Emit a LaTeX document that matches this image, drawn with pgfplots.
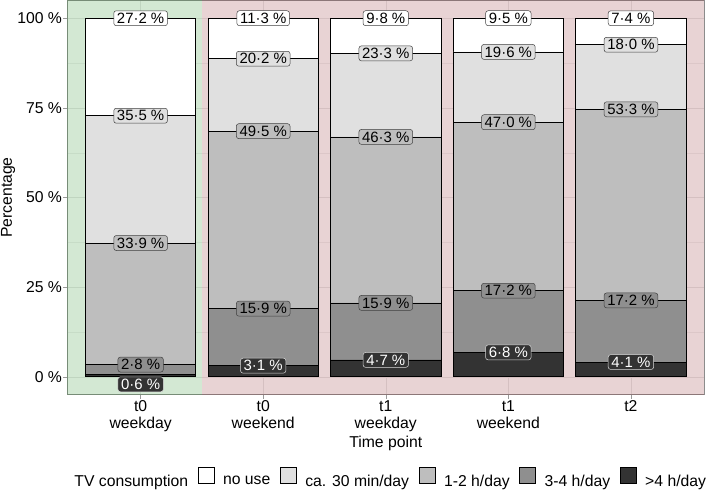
\documentclass[border=0pt]{standalone}
\usepackage{fontspec}
\setmainfont{Liberation Sans}
\usepackage{pgfplots}
\pgfplotsset{compat=1.18}
\definecolor{noUse}{HTML}{FFFFFF}
\definecolor{halfH}{HTML}{E0E0E0}
\definecolor{oneTwo}{HTML}{BEBEBE}
\definecolor{threeFour}{HTML}{8F8F8F}
\definecolor{overFour}{HTML}{333333}
\definecolor{shadeG}{RGB}{35,140,35}
\definecolor{shadeR}{RGB}{140,35,40}
\newcommand{\axfont}{\fontsize{15.8bp}{17bp}\selectfont}

\pgfplotsset{
  panel/.style={width=640bp, height=396bp, scale only axis,
    xmin=0.4, xmax=5.6, ymin=-5, ymax=105},
  lab/.style n args={3}{draw=none, mark=none,
    nodes near coords={\pgfplotspointmeta~\%},
    point meta=explicit symbolic,
    every node near coord/.append style={anchor=center, fill=#1, draw=#2,
      text=#3, rounded corners=2.5bp, line width=0.5bp,
      inner xsep=3.2bp, inner ysep=2.2bp,
      font=\fontsize{15bp}{17bp}\selectfont}},
}

\begin{document}
\begin{tikzpicture}
% background: grid, shading, ticks, axis labels
\begin{axis}[panel,
  xtick={1,2,3,4,5},
  xticklabels={{t0\\weekday},{t0\\weekend},{t1\\weekday},{t1\\weekend},{t2}},
  xticklabel style={align=center, font=\axfont, inner sep=2bp},
  ytick={0,25,50,75,100},
  yticklabels={0~\%,25~\%,50~\%,75~\%,100~\%},
  yticklabel style={font=\axfont, inner sep=1bp},
  minor ytick={12.5,37.5,62.5,87.5},
  grid=both,
  major grid style={black!9, line width=0.5bp},
  minor grid style={black!6, line width=0.3bp},
  tick pos=left, tick align=outside,
  major tick length=4bp, minor tick length=0bp,
  tick style={black!40, line width=0.5bp},
  axis line style={black!45, line width=0.6bp},
  xlabel={Time point}, ylabel={Percentage},
  xlabel style={font=\axfont, inner sep=0bp, yshift=-2bp},
  ylabel style={font=\axfont, inner sep=1bp},
]
\addplot[draw=none, fill=shadeG, fill opacity=0.2] coordinates {(0.4,-5) (1.5,-5) (1.5,105) (0.4,105)} -- cycle;
\addplot[draw=none, fill=shadeR, fill opacity=0.2] coordinates {(1.5,-5) (5.6,-5) (5.6,105) (1.5,105)} -- cycle;
\end{axis}

% stacked bars
\begin{axis}[panel, hide axis,
  ybar stacked, bar width=0.9,
  legend image code/.code={\draw[#1] (0bp,-2.5bp) rectangle (16bp,13.5bp);},
  reverse legend,
  legend style={at={(0.5,-0.21)}, anchor=center, draw=none, fill=none,
    font=\axfont, legend columns=6,
    nodes={inner sep=0bp},
    /tikz/every even column/.append style={column sep=9.5bp},
    /tikz/every odd column/.append style={column sep=9bp}},
]
\addplot[fill=overFour, draw=black, line width=0.6bp] coordinates {(1,0.6) (2,3.1) (3,4.7) (4,6.8) (5,4.1)};
\addlegendentry{>4 h/day}
\addplot[fill=threeFour, draw=black, line width=0.6bp] coordinates {(1,2.8) (2,15.9) (3,15.9) (4,17.2) (5,17.2)};
\addlegendentry{3-4 h/day}
\addplot[fill=oneTwo, draw=black, line width=0.6bp] coordinates {(1,33.9) (2,49.5) (3,46.3) (4,47.0) (5,53.3)};
\addlegendentry{1-2 h/day}
\addplot[fill=halfH, draw=black, line width=0.6bp] coordinates {(1,35.5) (2,20.2) (3,23.3) (4,19.6) (5,18.0)};
\addlegendentry{ca. 30 min/day}
\addplot[fill=noUse, draw=black, line width=0.6bp] coordinates {(1,27.2) (2,11.3) (3,9.8) (4,9.5) (5,7.4)};
\addlegendentry{no use}
\addlegendimage{empty legend}
\addlegendentry{TV consumption}
\end{axis}

% value labels at the top of each segment
\begin{axis}[panel, hide axis]
\addplot[lab={overFour}{black!15}{white}] table[meta=lab, row sep=\\] {
x y lab \\ 1 -2.1 0·6 \\ 2 3.1 3·1 \\ 3 4.7 4·7 \\ 4 6.8 6·8 \\ 5 4.1 4·1 \\
};
\addplot[lab={threeFour}{black!75}{black}] table[meta=lab, row sep=\\] {
x y lab \\ 1 3.4 2·8 \\ 2 19.0 15·9 \\ 3 20.6 15·9 \\ 4 24.0 17·2 \\ 5 21.3 17·2 \\
};
\addplot[lab={oneTwo}{black!75}{black}] table[meta=lab, row sep=\\] {
x y lab \\ 1 37.3 33·9 \\ 2 68.5 49·5 \\ 3 66.9 46·3 \\ 4 71.0 47·0 \\ 5 74.6 53·3 \\
};
\addplot[lab={halfH}{black!75}{black}] table[meta=lab, row sep=\\] {
x y lab \\ 1 72.8 35·5 \\ 2 88.7 20·2 \\ 3 90.2 23·3 \\ 4 90.6 19·6 \\ 5 92.6 18·0 \\
};
\addplot[lab={noUse}{black!75}{black}] table[meta=lab, row sep=\\] {
x y lab \\ 1 100 27·2 \\ 2 100 11·3 \\ 3 100 9·8 \\ 4 100 9·5 \\ 5 100 7·4 \\
};
\end{axis}
\end{tikzpicture}
\end{document}
